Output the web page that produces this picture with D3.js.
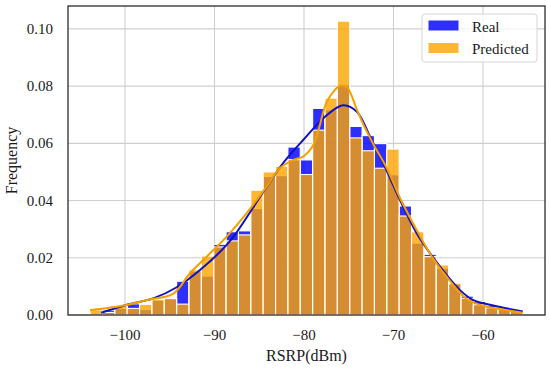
<!DOCTYPE html>
<html>
<head>
<meta charset="utf-8">
<script src="https://cdn.jsdelivr.net/npm/d3@7"></script>
<style>
  body { margin: 0; background: #fff; }
  svg text { font-family: "Liberation Serif", "Times New Roman", serif; fill: #1a1a1a; }
</style>
</head>
<body>
<script>
// Chart size
var svgWidth = 550;
var svgHeight = 369;

var margin = { top: 6, right: 5, bottom: 54, left: 68 };
var width = svgWidth - margin.left - margin.right;
var height = svgHeight - margin.top - margin.bottom;

// histogram bins (shared by both series)
var binStart = -103.9;
var binWidth = 1.3814;

// bar heights (density), one per bin
var realHist = [0.0006, 0.0017, 0.0023, 0.0039, 0.0019, 0.0052, 0.0056, 0.0118, 0.0153, 0.0136,
  0.0247, 0.0291, 0.0294, 0.0372, 0.0484, 0.0487, 0.0587, 0.0542, 0.0722, 0.0717,
  0.0804, 0.0659, 0.0627, 0.0599, 0.0490, 0.0381, 0.0251, 0.0212, 0.0163, 0.0108,
  0.0066, 0.0047, 0.0033, 0.0023, 0.0012];
var predHist = [0.0018, 0.0009, 0.0033, 0.0023, 0.0037, 0.0054, 0.0058, 0.0038, 0.0158, 0.0206,
  0.0238, 0.0259, 0.0280, 0.0436, 0.0500, 0.0520, 0.0543, 0.0491, 0.0646, 0.0758,
  0.1027, 0.0619, 0.0574, 0.0513, 0.0580, 0.0346, 0.0291, 0.0204, 0.0175, 0.0111,
  0.0058, 0.0036, 0.0025, 0.0027, 0.0017];

// kde curves: [x, density]
var realKde = [[-102.65, 0.0008], [-99.8, 0.0036], [-96.84, 0.0058], [-94.22, 0.0097], [-91.62, 0.0157],
  [-88.64, 0.0245], [-87.5, 0.029], [-84.4, 0.0437], [-82.2, 0.0536], [-79.9, 0.0618],
  [-77.65, 0.0693], [-75.64, 0.0733], [-74.08, 0.071], [-72.63, 0.0624], [-71.14, 0.053],
  [-69.27, 0.0402], [-67.41, 0.0286], [-64.8, 0.0169], [-62.57, 0.0087], [-61.08, 0.0052],
  [-58.85, 0.0033], [-55.56, 0.0012]];
var predKde = [[-103.91, 0.0017], [-99.81, 0.0035], [-97.58, 0.0052], [-94.6, 0.0075], [-92.74, 0.0146],
  [-90.87, 0.0204], [-88.64, 0.0274], [-86.4, 0.0356], [-84.17, 0.0449], [-82.68, 0.0514],
  [-81.2, 0.0542], [-80.08, 0.0554], [-78.96, 0.0594], [-77.46, 0.0745], [-76.54, 0.0787],
  [-75.98, 0.0801], [-75.2, 0.0796], [-74.08, 0.0717], [-73.18, 0.0654], [-72.26, 0.0598],
  [-70.76, 0.0514], [-69.27, 0.0409], [-67.41, 0.0297], [-65.55, 0.0196], [-63.69, 0.0119],
  [-61.82, 0.0056], [-59.59, 0.0029], [-57.35, 0.0017], [-55.56, 0.0008]];

var xTicks = [-100, -90, -80, -70, -60];
var yTicks = [0, 0.02, 0.04, 0.06, 0.08, 0.10];
var legendNames = ["Real", "Predicted"];

var svg = d3.select("body").append("svg")
  .attr("width", svgWidth)
  .attr("height", svgHeight);

var chartGroup = svg.append("g")
  .attr("transform", `translate(${margin.left}, ${margin.top})`);

var xScale = d3.scaleLinear().domain([-106.37, -53.07]).range([0, width]);
var yScale = d3.scaleLinear().domain([0, 0.108]).range([height, 0]);

// grid
chartGroup.append("g").selectAll("line.gx")
  .data(xTicks).enter().append("line")
  .attr("x1", d => xScale(d)).attr("x2", d => xScale(d))
  .attr("y1", 0).attr("y2", height)
  .attr("stroke", "#cfcfcf").attr("stroke-width", 1.1);
chartGroup.append("g").selectAll("line.gy")
  .data(yTicks).enter().append("line")
  .attr("x1", 0).attr("x2", width)
  .attr("y1", d => yScale(d)).attr("y2", d => yScale(d))
  .attr("stroke", "#cfcfcf").attr("stroke-width", 1.1);

// bars
function drawBars(values, color, opacity) {
  chartGroup.append("g").selectAll("rect")
    .data(values).enter().append("rect")
    .attr("x", (d, i) => xScale(binStart + i * binWidth))
    .attr("width", (d, i) => xScale(binStart + (i + 1) * binWidth) - xScale(binStart + i * binWidth))
    .attr("y", d => yScale(d))
    .attr("height", d => yScale(0) - yScale(d))
    .attr("fill", color)
    .attr("fill-opacity", opacity)
    .attr("stroke", "#fff")
    .attr("stroke-width", 1.1);
}
drawBars(realHist, "#0000ff", 0.82);
drawBars(predHist, "#ffa500", 0.8);

// kde lines (drawn above all bars, like matplotlib zorder)
var line = d3.line()
  .x(d => xScale(d[0]))
  .y(d => yScale(d[1]))
  .curve(d3.curveCatmullRom.alpha(0.5));

chartGroup.append("path").datum(realKde)
  .attr("d", line).attr("fill", "none")
  .attr("stroke", "#1010c4").attr("stroke-width", 2);
chartGroup.append("path").datum(predKde)
  .attr("d", line).attr("fill", "none")
  .attr("stroke", "#f5a000").attr("stroke-width", 2);

// frame
chartGroup.append("rect")
  .attr("x", 0).attr("y", 0).attr("width", width).attr("height", height)
  .attr("fill", "none").attr("stroke", "#2b2b2b").attr("stroke-width", 1.3);

// tick labels
chartGroup.append("g").selectAll("text")
  .data(xTicks).enter().append("text")
  .attr("x", d => xScale(d))
  .attr("y", height + 25)
  .attr("text-anchor", "middle")
  .attr("font-size", 15)
  .text(d => d3.format("d")(d).replace("-", "\u2212"));

chartGroup.append("g").selectAll("text")
  .data(yTicks).enter().append("text")
  .attr("x", -15)
  .attr("y", d => yScale(d) + 5)
  .attr("text-anchor", "end")
  .attr("font-size", 15)
  .text(d => d3.format(".2f")(d));

// axis labels
chartGroup.append("text")
  .attr("x", width / 2)
  .attr("y", height + 46)
  .attr("text-anchor", "middle")
  .attr("font-size", 16)
  .text("RSRP(dBm)");

chartGroup.append("text")
  .attr("transform", "rotate(-90)")
  .attr("x", -height / 2)
  .attr("y", -51)
  .attr("text-anchor", "middle")
  .attr("font-size", 16)
  .text("Frequency");

// legend
var legend = chartGroup.append("g")
  .attr("transform", `translate(${width - 123}, 8)`);
legend.append("rect")
  .attr("x", 0).attr("y", 0).attr("width", 115).attr("height", 48)
  .attr("rx", 3)
  .attr("fill", "#fff").attr("fill-opacity", 0.8)
  .attr("stroke", "#d6d6d6").attr("stroke-width", 1);
var legendColors = [["#0000ff", 0.82], ["#ffa500", 0.8]];
legendNames.forEach(function(name, i) {
  legend.append("rect")
    .attr("x", 6.5).attr("y", 6.5 + i * 22.5)
    .attr("width", 30).attr("height", 10)
    .attr("fill", legendColors[i][0])
    .attr("fill-opacity", legendColors[i][1]);
  legend.append("text")
    .attr("x", 50).attr("y", 17.5 + i * 22.5)
    .attr("font-size", 15)
    .text(name);
});
</script>
</body>
</html>
